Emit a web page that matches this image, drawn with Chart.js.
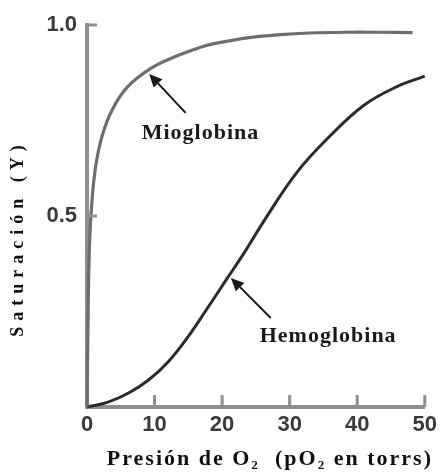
<!DOCTYPE html>
<html>
<head>
<meta charset="utf-8">
<script src="https://cdn.jsdelivr.net/npm/chart.js@4/dist/chart.umd.min.js"></script>
<style>
  html, body { margin: 0; padding: 0; background: #ffffff; }
  #wrap { width: 442px; height: 473px; }
</style>
</head>
<body>
<div id="wrap"><canvas id="c" width="442" height="473"></canvas></div>
<script>
// ---- data ----
const myoPressure = [0, 0.15, 0.3, 0.58, 1.2, 2.2, 3.7, 6.0, 9.5, 12.9, 16.8, 19, 24, 28.7, 33, 38.5, 43, 48.2];
const myoSaturation = [0, 0.22, 0.38, 0.50, 0.62, 0.707, 0.777, 0.838, 0.887, 0.916, 0.942, 0.952, 0.967, 0.975, 0.979, 0.981, 0.981, 0.980];

const hemoPressure = [0, 3, 6.3, 9.2, 12.1, 15, 17.5, 20.5, 23.5, 26.3, 31.1, 36, 41, 45.8, 50];
const hemoSaturation = [0, 0.012, 0.038, 0.072, 0.12, 0.185, 0.25, 0.33, 0.41, 0.49, 0.615, 0.71, 0.79, 0.838, 0.866];

const seriesNames = ['Mioglobina', 'Hemoglobina'];
const xTickValues = [0, 10, 20, 30, 40, 50];
const yTickValues = [0.5, 1.0];
const xTitle = 'Presión de O₂  (pO₂ en torrs)';
const yTitle = 'Saturación (Y)';

// annotation anchors (data units)
const annotationText = ['Mioglobina', 'Hemoglobina'];
const annotationLabelAt = [[16.8, 0.717], [35.7, 0.186]];
const annotationArrowFrom = [[14.6, 0.770], [27.2, 0.233]];
const annotationArrowTo = [[9.2, 0.872], [21.3, 0.338]];

const toPoints = (xs, ys) => xs.map((x, i) => ({ x: x, y: ys[i] }));

const innerTicks = {
  id: 'innerTicks',
  afterDatasetsDraw(chart) {
    const ctx = chart.ctx, xs = chart.scales.x, ys = chart.scales.y;
    const a = chart.chartArea;
    ctx.save();
    ctx.strokeStyle = '#8e8e8e';
    ctx.lineWidth = 3;
    xs.ticks.forEach(t => {
      if (t.value === 0) return;
      const px = xs.getPixelForValue(t.value);
      ctx.beginPath(); ctx.moveTo(px, a.bottom); ctx.lineTo(px, a.bottom - 12); ctx.stroke();
    });
    ys.ticks.forEach(t => {
      const py = ys.getPixelForValue(t.value);
      ctx.beginPath(); ctx.moveTo(a.left, py); ctx.lineTo(a.left + 10, py); ctx.stroke();
    });
    ctx.restore();
  }
};

const annotations = {
  id: 'annotations',
  afterDatasetsDraw(chart) {
    const ctx = chart.ctx, xs = chart.scales.x, ys = chart.scales.y;
    ctx.save();
    annotationText.forEach((txt, i) => {
      const lx = xs.getPixelForValue(annotationLabelAt[i][0]);
      const ly = ys.getPixelForValue(annotationLabelAt[i][1]);
      ctx.font = 'bold 22px "Liberation Serif", "Times New Roman", serif';
      ctx.letterSpacing = '1px';
      ctx.fillStyle = '#1a1a1a';
      ctx.textAlign = 'center';
      ctx.textBaseline = 'middle';
      ctx.fillText(txt, lx, ly);
      ctx.letterSpacing = '0px';
      const fx = xs.getPixelForValue(annotationArrowFrom[i][0]);
      const fy = ys.getPixelForValue(annotationArrowFrom[i][1]);
      const tx = xs.getPixelForValue(annotationArrowTo[i][0]);
      const ty = ys.getPixelForValue(annotationArrowTo[i][1]);
      const ang = Math.atan2(ty - fy, tx - fx);
      const hl = 13, hw = 6;
      const bx = tx - hl * Math.cos(ang), by = ty - hl * Math.sin(ang);
      ctx.strokeStyle = '#1a1a1a';
      ctx.fillStyle = '#1a1a1a';
      ctx.lineWidth = 2;
      ctx.beginPath(); ctx.moveTo(fx, fy); ctx.lineTo(bx, by); ctx.stroke();
      ctx.beginPath();
      ctx.moveTo(tx, ty);
      ctx.lineTo(bx + hw * Math.sin(ang), by - hw * Math.cos(ang));
      ctx.lineTo(bx - hw * Math.sin(ang), by + hw * Math.cos(ang));
      ctx.closePath(); ctx.fill();
    });
    ctx.restore();
  }
};

const titleStyle = {
  id: 'titleStyle',
  beforeDraw(chart) {
    const patch = (s, spacing, dx, dy) => {
      if (!s || s._patchedTitle) return;
      const orig = s.drawTitle.bind(s);
      s.drawTitle = function () {
        const ctx = this.ctx;
        ctx.save();
        ctx.letterSpacing = spacing;
        ctx.translate(dx, dy);
        orig();
        ctx.restore();
      };
      s._patchedTitle = true;
    };
    patch(chart.scales.x, '2px', 14, 0);
    patch(chart.scales.y, '6px', 0, 22);
  }
};

new Chart(document.getElementById('c'), {
  type: 'line',
  data: {
    datasets: [
      {
        label: seriesNames[0],
        data: toPoints(myoPressure, myoSaturation),
        borderColor: '#6e6e6e',
        borderWidth: 3.2,
        pointRadius: 0,
        tension: 0.4,
        fill: false,
        clip: false
      },
      {
        label: seriesNames[1],
        data: toPoints(hemoPressure, hemoSaturation),
        borderColor: '#2b2b2b',
        borderWidth: 3,
        pointRadius: 0,
        tension: 0.4,
        fill: false,
        clip: false
      }
    ]
  },
  options: {
    responsive: false,
    animation: false,
    devicePixelRatio: 1,
    layout: { padding: { top: 25, right: 13, left: 0, bottom: 0 } },
    plugins: { legend: { display: false }, tooltip: { enabled: false } },
    scales: {
      x: {
        type: 'linear',
        min: 0, max: 50,
        afterBuildTicks: s => { s.ticks = xTickValues.map(v => ({ value: v })); },
        afterFit: s => { s.height = 66; },
        grid: { display: true, drawOnChartArea: false, drawTicks: false },
        border: { display: true, color: '#8e8e8e', width: 4 },
        ticks: {
          padding: 5,
          color: '#3a3a3a',
          font: { family: '"Liberation Sans", Arial, sans-serif', size: 22, weight: 'bold' },
          maxRotation: 0
        },
        title: {
          display: true,
          text: xTitle,
          color: '#111111',
          font: { family: '"Liberation Serif", "Times New Roman", serif', size: 22, weight: 'bold', lineHeight: 1 },
          padding: { top: 0, bottom: 3 }
        }
      },
      y: {
        type: 'linear',
        min: 0, max: 1,
        afterBuildTicks: s => { s.ticks = yTickValues.map(v => ({ value: v })); },
        afterFit: s => { s.width = 87; },
        grid: { display: true, drawOnChartArea: false, drawTicks: false },
        border: { display: true, color: '#8e8e8e', width: 4 },
        ticks: {
          padding: 10,
          color: '#3a3a3a',
          font: { family: '"Liberation Sans", Arial, sans-serif', size: 22, weight: 'bold' },
          callback: v => Number(v).toFixed(1)
        },
        title: {
          display: true,
          text: yTitle,
          color: '#111111',
          font: { family: '"Liberation Serif", "Times New Roman", serif', size: 18, weight: 'bold', lineHeight: 1 },
          padding: { top: 9, bottom: 0 }
        }
      }
    }
  },
  plugins: [innerTicks, annotations, titleStyle]
});
</script>
</body>
</html>
